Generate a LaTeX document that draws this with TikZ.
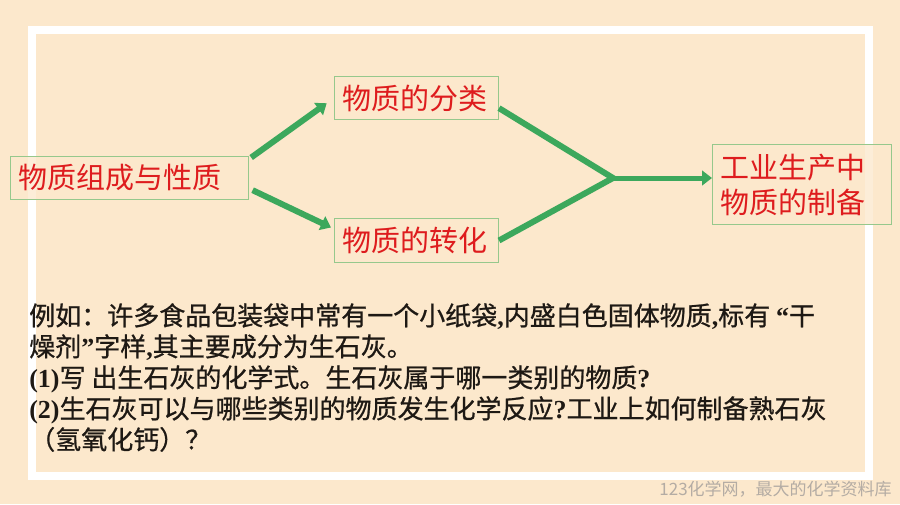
\documentclass[tikz,border=0pt]{standalone}
\usepackage{fontspec}
\usepackage{tikz}
\usetikzlibrary{arrows.meta}
\newfontfamily\cjk{Noto Sans CJK SC}
\newfontfamily\cjkheavy{Noto Sans CJK SC}[FakeBold=0.8]
\newfontfamily\latb{Liberation Serif}
\definecolor{bgpeach}{RGB}{252,232,204}
\definecolor{boxgreen}{RGB}{150,200,140}
\definecolor{boxred}{RGB}{222,28,30}
\definecolor{arrgreen}{RGB}{60,168,92}
\definecolor{markgray}{RGB}{180,172,164}
\definecolor{inkblack}{RGB}{30,25,20}
\newcommand{\lb}[1]{{\latb\bfseries #1}}

\begin{document}
\begin{tikzpicture}[x=0.75pt,y=0.75pt,yscale=-1,xscale=1,
  topicbox/.style={draw=boxgreen, line width=0.75pt, fill=bgpeach, fill opacity=0.75, text opacity=1, text=boxred, font=\cjk\fontsize{21.75pt}{26.25pt}\selectfont, inner xsep=6pt, inner ysep=0pt, align=left, anchor=north west},
  fatarrow/.style={draw=arrgreen, line width=4.5pt, -{Triangle[length=7.5pt,width=11pt]}},
  fatline/.style={draw=arrgreen, line width=4.5pt, line join=miter}
]

%Shape: Rectangle [background]
\fill[bgpeach] (0,0) rectangle (900,504);
%Shape: Rectangle [frame]
\draw[white, line width=6pt] (32,30) rectangle (869,476);

% Text Node
\node[topicbox, text width=166.5pt, minimum height=32.25pt] (comp) at (10,156) {物质组成与性质};
% Text Node
\node[topicbox, text width=111pt, minimum height=32.25pt] (cls) at (334,76) {物质的分类};
% Text Node
\node[topicbox, text width=111pt, minimum height=33pt] (trf) at (334,218) {物质的转化};
% Text Node
\node[topicbox, text width=122.25pt, minimum height=60pt] (prod) at (712,144) {工业生产中\\物质的制备};

%Straight Lines
\draw[fatarrow, shorten <=2pt, shorten >=6.75pt] (comp.9) -- (cls.west);
%Straight Lines
\draw[fatarrow, shorten <=3pt, shorten >=2.5pt] (comp.-5) -- (trf.172);
%Straight Lines
\coordinate (join) at (613,178);
\draw[fatline] (cls.-7) -- (join) -- (trf.east);
%Straight Lines
\draw[fatarrow, line width=3.75pt] (join) -- (join -| prod.west);

% Text Node
\node[anchor=north west, inner sep=0pt, align=left, text=inkblack, font=\cjkheavy\fontsize{19.5pt}{23.25pt}\selectfont] (question) at (29,303) {例如：许多食品包装袋中常有一个小纸袋\lb{,}内盛白色固体物质\lb{,}标有 \lb{“}干\\燥剂\lb{”}字样\lb{,}其主要成分为生石灰。\\\lb{(1)}写 出生石灰的化学式。生石灰属于哪一类别的物质\lb{?}\\\lb{(2)}生石灰可以与哪些类别的物质发生化学反应\lb{?}工业上如何制备熟石灰\\（氢氧化钙）？};
% Text Node
\node[anchor=east, inner sep=0pt, text=markgray, font=\cjk\fontsize{12.75pt}{15pt}\selectfont] (mark) at (892,489) {123化学网，最大的化学资料库};
\end{tikzpicture}
\end{document}
